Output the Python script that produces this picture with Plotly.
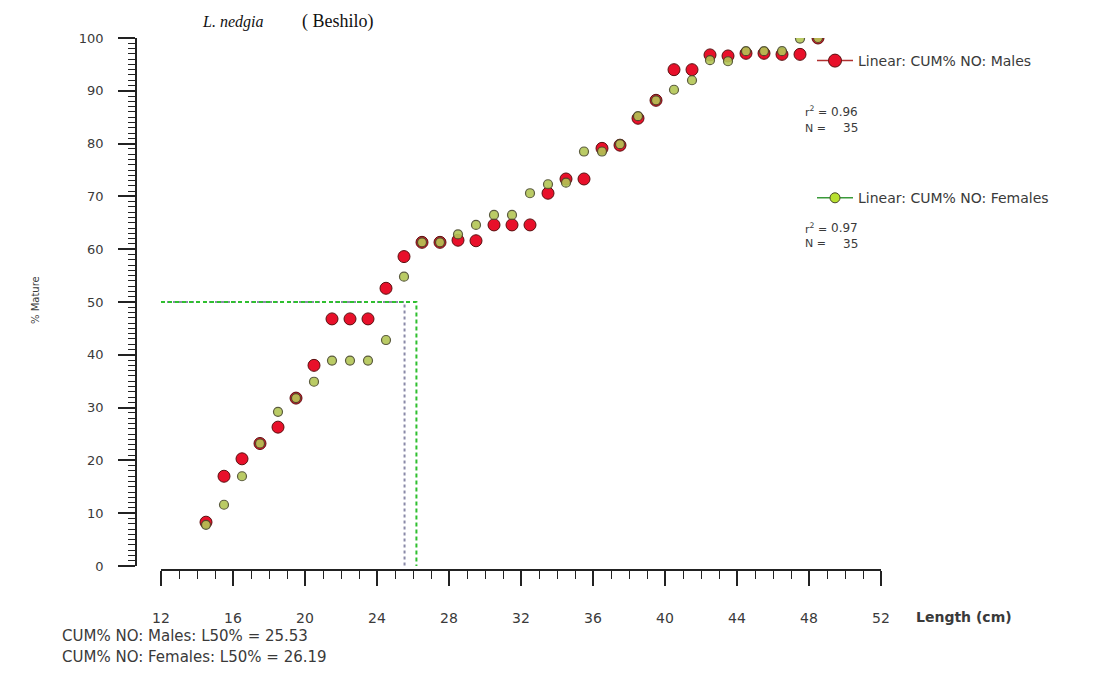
import plotly.graph_objects as go

# ---- data ----
length_cm = [14.5, 15.5, 16.5, 17.5, 18.5, 19.5, 20.5, 21.5, 22.5, 23.5,
             24.5, 25.5, 26.5, 27.5, 28.5, 29.5, 30.5, 31.5, 32.5, 33.5,
             34.5, 35.5, 36.5, 37.5, 38.5, 39.5, 40.5, 41.5, 42.5, 43.5,
             44.5, 45.5, 46.5, 47.5, 48.5]
males_cum = [8.3, 17.0, 20.3, 23.2, 26.3, 31.8, 38.0, 46.8, 46.8, 46.8,
             52.6, 58.6, 61.3, 61.3, 61.7, 61.6, 64.6, 64.6, 64.6, 70.6,
             73.3, 73.3, 79.1, 79.7, 84.8, 88.2, 94.0, 94.0, 96.8, 96.6,
             97.1, 97.1, 96.9, 96.9, 100.0]
females_cum = [7.8, 11.6, 17.0, 23.2, 29.2, 31.8, 34.9, 38.9, 38.9, 38.9,
               42.8, 54.8, 61.3, 61.3, 62.8, 64.6, 66.5, 66.5, 70.6, 72.3,
               72.6, 78.5, 78.5, 79.9, 85.2, 88.2, 90.2, 92.0, 95.8, 95.6,
               97.5, 97.5, 97.5, 99.9, 100.0]
l50_males = 25.53
l50_females = 26.19
r2_males, n_males = 0.96, 35
r2_females, n_females = 0.97, 35
x_min, x_max = 12, 52
y_min, y_max = 0, 100

W, H = 1097, 673
ML, MR, MT, MB = 100, 197, 30, 93
PW, PH = W - ML - MR, H - MT - MB


def px_x(p):
    return (p - ML) / PW


def px_y(p):
    return (H - MB - p) / PH


TXT = "#3a3a3a"
FONT = "DejaVu Sans"
RED = "#e8102a"
GREEN = "#b3c655"

fig = go.Figure()

# L50 reference lines
fig.add_trace(go.Scatter(x=[x_min, l50_males, l50_males], y=[50, 50, 0], mode="lines",
                         line=dict(color="#8a8aa8", width=2, dash="dot"),
                         showlegend=False, hoverinfo="skip"))
fig.add_trace(go.Scatter(x=[x_min, l50_females, l50_females], y=[50, 50, 0], mode="lines",
                         line=dict(color="#2fbf2f", width=2, dash="4px,3px"),
                         showlegend=False, hoverinfo="skip"))

# data points
fig.add_trace(go.Scatter(x=length_cm, y=males_cum, mode="markers",
                         marker=dict(size=12, color=RED, line=dict(color="#5a1010", width=1)),
                         showlegend=False))
fig.add_trace(go.Scatter(x=length_cm, y=females_cum, mode="markers",
                         marker=dict(size=9, color=GREEN, line=dict(color="#4a4a2a", width=1.2),
                                     opacity=0.9),
                         showlegend=False))

# legend-only entries
fig.add_trace(go.Scatter(x=[None], y=[None], mode="lines+markers", name="Linear: CUM% NO: Males",
                         legendgroup="m",
                         line=dict(color="#b03030", width=1.5),
                         marker=dict(size=13, color=RED, line=dict(color="#5a1010", width=1))))
fig.add_trace(go.Scatter(x=[None], y=[None], mode="lines+markers", name="Linear: CUM% NO: Females",
                         legendgroup="f",
                         line=dict(color="#3a9a3a", width=1.5),
                         marker=dict(size=10, color="#b8e030", line=dict(color="#4a4a2a", width=1))))


def note(x, y, text, size, anchor="left", family=FONT, color=TXT, **kw):
    return dict(x=px_x(x), y=px_y(y), xref="paper", yref="paper", xanchor=anchor,
                yanchor="middle", text=text, showarrow=False,
                font=dict(family=family, size=size, color=color), **kw)


ann = []
# title
ann.append(note(200, 22, "<i>L. nedgia</i>", 16, family="Liberation Serif", color="#111"))
ann.append(note(300, 22, "( Beshilo)", 18, family="Liberation Serif", color="#111"))
# y axis title
ann.append(note(35, 300, "% Mature", 10, anchor="center", textangle=-90))
# x axis title
ann.append(note(914, 617, "<b>Length (cm)</b>", 14))
# bottom L50 notes
ann.append(note(60, 636, f"CUM% NO: Males: L50% = {l50_males:.2f}", 15))
ann.append(note(60, 657, f"CUM% NO: Females: L50% = {l50_females:.2f}", 15))
# r2 / N stats
for (r2, n, y0) in [(r2_males, n_males, 112), (r2_females, n_females, 228)]:
    ann.append(note(803, y0, "r<sup>2</sup> =", 11))
    ann.append(note(860, y0, f"{r2:.2f}", 12, anchor="right"))
    ann.append(note(803, y0 + 16, "N =", 11))
    ann.append(note(860, y0 + 16, f"{n}", 12, anchor="right"))

fig.update_layout(
    width=W, height=H,
    margin=dict(l=ML, r=MR, t=MT, b=MB),
    paper_bgcolor="white", plot_bgcolor="white",
    annotations=ann,
    showlegend=True,
    legend=dict(x=px_x(812), y=px_y(45), xanchor="left", yanchor="top",
                bgcolor="rgba(0,0,0,0)", traceorder="grouped", tracegroupgap=116,
                font=dict(family=FONT, size=14, color=TXT), itemwidth=36),
    xaxis=dict(domain=[px_x(161), px_x(881)], range=[x_min, x_max], anchor="free",
               position=px_y(570),
               showgrid=False, zeroline=False, showline=True, linecolor="#222", linewidth=1.5,
               ticks="outside", tick0=12, dtick=4, ticklen=15, tickwidth=1.5, tickcolor="#222",
               minor=dict(ticks="outside", dtick=1, tick0=12, ticklen=8, tickwidth=1, tickcolor="#222",
                          showgrid=False),
               ticklabelstandoff=20,
               tickfont=dict(family=FONT, size=14, color=TXT)),
    yaxis=dict(domain=[px_y(566), px_y(38)], range=[y_min, y_max], anchor="free",
               position=px_x(136),
               showgrid=False, zeroline=False, showline=True, linecolor="#222", linewidth=1.5,
               ticks="outside", tick0=0, dtick=10, ticklen=17, tickwidth=1.5, tickcolor="#222",
               minor=dict(ticks="outside", dtick=1, tick0=0, ticklen=7, tickwidth=1, tickcolor="#222",
                          showgrid=False),
               ticklabelstandoff=12,
               tickfont=dict(family=FONT, size=13, color=TXT)),
)

fig.write_html("out.html")
